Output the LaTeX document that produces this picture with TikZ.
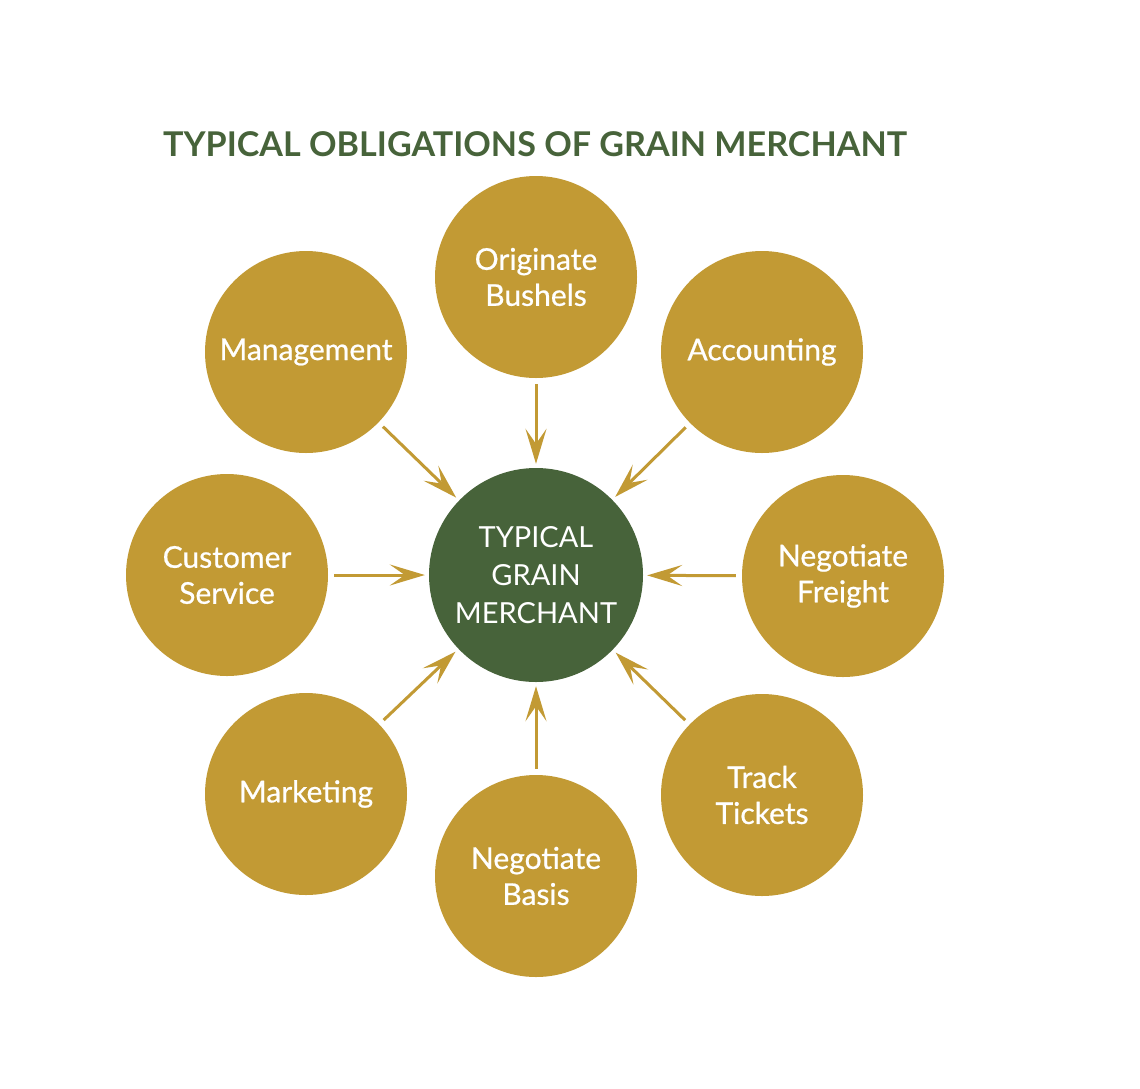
\documentclass[tikz,border=0pt]{standalone}
\usepackage{fontspec}
\setmainfont{Lato}
\newfontfamily\titlefont{Lato}[UprightFont=* Bold]
\newfontfamily\outerfont{Lato}[FakeBold=0.7]
\usetikzlibrary{arrows.meta}
\definecolor{gold}{HTML}{C29A34}
\definecolor{darkgreen}{HTML}{47633A}
\tikzset{
  outer/.style={circle, fill=gold, minimum size=202pt, inner sep=0pt, text=white,
    align=center, font=\outerfont\fontsize{30}{36}\selectfont},
  hub/.style={circle, fill=darkgreen, minimum size=214pt, inner sep=0pt, text=white,
    align=center, font=\fontsize{29}{38}\selectfont},
  feed/.style={draw=gold, line width=3pt, shorten <=6pt, shorten >=4pt,
    -{Stealth[length=35pt, width=21pt, inset=15pt]}},
}
\begin{document}
\begin{tikzpicture}[x=1pt, y=-1pt]
\useasboundingbox (0,0) rectangle (1140,1088);
\fill[white] (0,0) rectangle (1140,1088);
\node[font=\titlefont\fontsize{34.1}{40}\selectfont, text=darkgreen, anchor=base] (title) at (535,156) {TYPICAL OBLIGATIONS OF GRAIN MERCHANT};
\node[hub] (c) at (536,575) {TYPICAL\\GRAIN\\MERCHANT};
\node[outer] (ob) at (536,277) {Originate\\Bushels};
\node[outer] (ac) at (762,352) {Accounting};
\node[outer] (nf) at (843,576) {Negotiate\\Freight};
\node[outer] (tt) at (762,795) {Track\\Tickets};
\node[outer] (nb) at (536,876) {Negotiate\\Basis};
\node[outer] (mk) at (306,794) {Marketing};
\node[outer] (cs) at (227,575) {Customer\\Service};
\node[outer] (mg) at (306,352) {Management};
\foreach \n in {ob,ac,nf,tt,nb,mk,cs,mg}{
  \draw[feed] (\n) -- (c);
}
\end{tikzpicture}
\end{document}
